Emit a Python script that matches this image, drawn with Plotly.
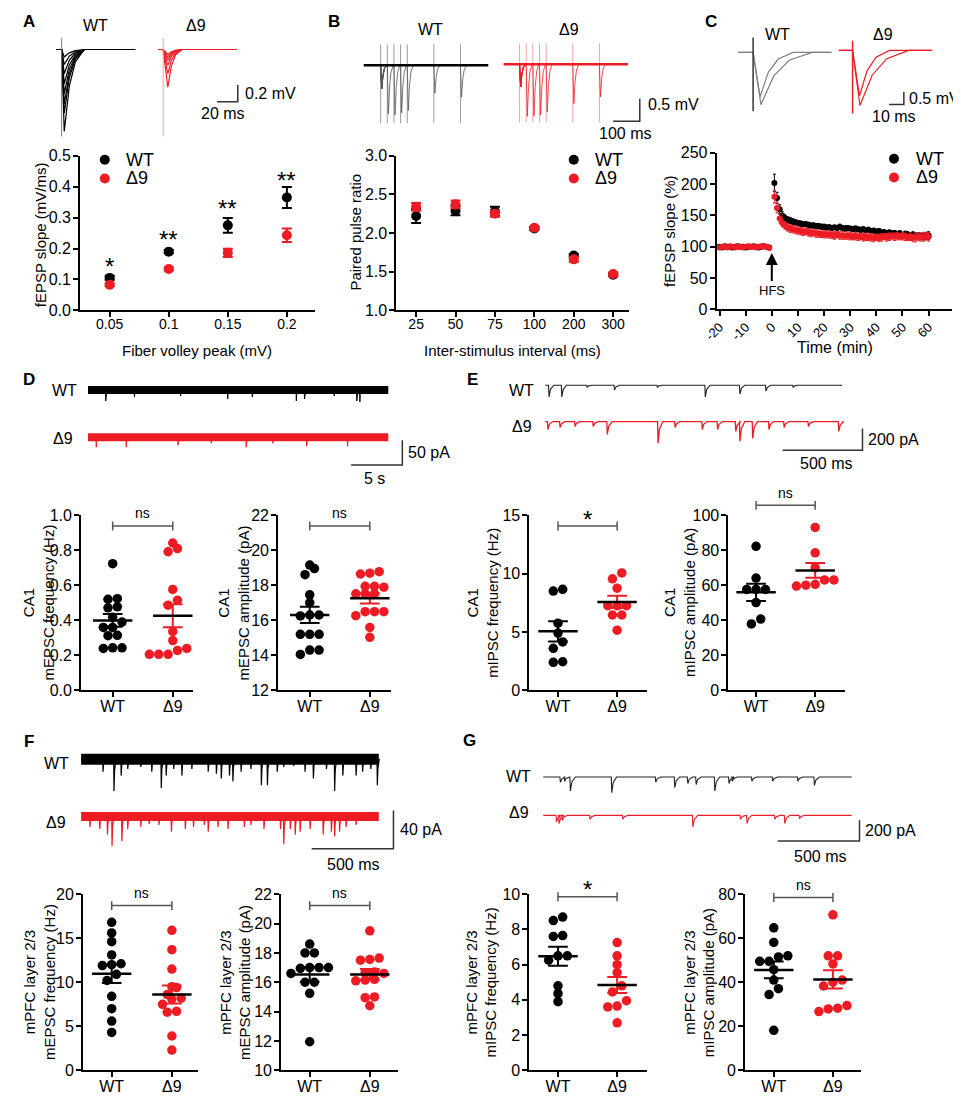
#!/usr/bin/env python3
# -*- coding: utf-8 -*-
import numpy as np
import plotly.graph_objects as go

W, H = 961, 1103        # reference pixel frame
OFF = 8                 # default margin of the html body around the plot div
FW, FH = W - OFF, H - OFF
FONT = 'Liberation Sans, Arial, Helvetica, sans-serif'
RED = '#ED1C24'
BAR = '#555555'

# %% Data ---------------------------------------------------------------
groups = ['WT', 'Δ9']

# A: input-output (fEPSP slope vs fiber volley)
fv_labels = ['0.05', '0.1', '0.15', '0.2']
io_wt = [0.105, 0.19, 0.275, 0.365]
io_wt_sem = [0.006, 0.005, 0.024, 0.034]
io_d9 = [0.083, 0.134, 0.186, 0.243]
io_d9_sem = [0.005, 0.005, 0.013, 0.022]
io_marks = ['*', '**', '**', '**']
io_mark_y = [0.159, 0.245, 0.347, 0.436]
a_yticks = [0.0, 0.1, 0.2, 0.3, 0.4, 0.5]
# A example sweeps (mV, ms)
a_wt_depth = [0.98, 0.76, 0.65, 0.53, 0.41, 0.29, 0.18, 0.09]
a_d9_depth = [0.45, 0.29, 0.19, 0.13, 0.09, 0.06]
a_stim, a_end = 5, 76
a_art = (0.14, -1.04)

# B: paired pulse ratio
isi_labels = ['25', '50', '75', '100', '200', '300']
isi_ms = [25, 50, 75, 100, 200, 300]
ppr_wt = [2.22, 2.29, 2.28, 2.06, 1.71, 1.46]
ppr_wt_sem = [0.09, 0.06, 0.06, 0.02, 0.02, 0.02]
ppr_d9 = [2.34, 2.37, 2.25, 2.07, 1.66, 1.47]
ppr_d9_sem = [0.05, 0.05, 0.04, 0.02, 0.03, 0.02]
b_yticks = [1.0, 1.5, 2.0, 2.5, 3.0]
b_wt_first, b_d9_first = 0.52, 0.50
b_wt_second = [1.07, 1.10, 1.05, 1.00, 0.62, 0.70]
b_d9_second = [1.15, 1.15, 1.12, 1.05, 0.87, 0.72]
b_art = (0.46, -1.28)

# C: LTP time course
ltp_base_t = list(range(-20, 0))
ltp_wt_base = [100, 99, 101, 100, 100, 99, 100, 101, 100, 100,
               99, 100, 100, 101, 100, 99, 100, 101, 100, 99]
ltp_wt_base_err = [2, 2, 1, 2, 2, 1, 2, 2, 1, 2, 2, 1, 2, 2, 1, 2, 2, 1, 2, 2]
ltp_d9_base = [99, 100, 100, 99, 101, 100, 99, 100, 100, 99,
               100, 101, 100, 100, 99, 100, 101, 101, 100, 98]
ltp_d9_base_err = [2, 1, 2, 2, 1, 2, 2, 1, 2, 2, 1, 2, 2, 1, 2, 2, 1, 2, 2, 2]
ltp_post_t = list(range(1, 61))
ltp_wt_post = [202, 178, 160, 150, 146, 143, 142, 140, 139, 138,
               137, 136, 136, 135, 134, 134, 133, 133, 132, 132,
               131, 131, 130, 131, 130, 132, 130, 129, 130, 129,
               128, 129, 128, 127, 128, 126, 127, 125, 126, 124,
               125, 123, 123, 122, 123, 121, 122, 120, 121, 119,
               120, 119, 118, 119, 117, 118, 117, 116, 117, 118]
ltp_wt_post_err = [14, 9, 7, 6, 5, 5, 5, 5, 4, 4,
                   4, 4, 4, 4, 4, 4, 4, 3, 4, 4,
                   3, 4, 4, 3, 4, 4, 3, 4, 4, 3,
                   4, 4, 3, 4, 4, 3, 4, 4, 3, 4,
                   4, 3, 4, 4, 3, 4, 4, 4, 5, 4,
                   5, 5, 4, 5, 5, 4, 5, 5, 6, 6]
ltp_d9_post = [180, 162, 145, 138, 134, 131, 129, 128, 127, 126,
               125, 124, 124, 123, 122, 122, 121, 121, 120, 120,
               120, 119, 119, 118, 119, 118, 118, 117, 118, 117,
               116, 117, 116, 116, 115, 116, 115, 115, 114, 115,
               114, 115, 116, 115, 116, 117, 116, 117, 116, 117,
               116, 115, 116, 114, 115, 116, 115, 116, 117, 116]
ltp_d9_post_err = [10, 8, 7, 6, 6, 6, 6, 6, 6, 6,
                   6, 6, 5, 6, 6, 5, 6, 6, 5, 6,
                   6, 5, 6, 6, 5, 6, 6, 5, 6, 6,
                   5, 6, 6, 5, 6, 6, 5, 6, 6, 5,
                   6, 6, 5, 6, 6, 5, 6, 6, 5, 6,
                   6, 5, 6, 6, 7, 6, 6, 7, 6, 7]
c_yticks = [0, 50, 100, 150, 200, 250]
c_xticks = [-20, -10, 0, 10, 20, 30, 40, 50, 60]
# C example sweeps: pre / post HFS
c_wt_depth, c_wt_peak, c_wt_back = [1.73, 2.04], [4.7, 5.3], [27, 40]
c_d9_depth, c_d9_peak, c_d9_back = [1.77, 2.15], [4.7, 5.0], [25, 38]
c_wt_stim, c_d9_stim, c_end = 10, 9.3, 63
c_wt_art, c_d9_art = (0.58, -2.3), (0.38, -2.46)

# D: CA1 mEPSC
d_freq_wt = [0.723, 0.471, 0.52, 0.523, 0.477, 0.417, 0.359, 0.359, 0.312,
             0.314, 0.243, 0.239, 0.243, 0.39]
d_freq_d9 = [0.809, 0.791, 0.841, 0.576, 0.514, 0.486, 0.336, 0.284, 0.239,
             0.239, 0.228, 0.206, 0.206, 0.206]
d_amp_wt = [19.15, 18.95, 18.6, 17.45, 17.0, 16.3, 16.25, 16.3, 15.2, 15.2,
            15.2, 14.3, 14.3, 14.05]
d_amp_d9 = [18.77, 18.69, 18.64, 17.94, 17.89, 17.94, 17.51, 17.51, 17.51,
            16.49, 16.49, 16.49, 16.26, 15.59, 15.03]
d_wt_t = [1.7, 4.5, 9.0, 13.6, 16.0, 20.3, 21.1, 24.0, 26.2, 26.5]
d_wt_a = [22, 14, 12, 18, 14, 22, 18, 12, 22, 24]
d_d9_t = [0.77, 3.7, 8.75, 12.0, 15.4, 18.0, 21.3, 25.3]
d_d9_a = [20, 20, 16, 12, 20, 12, 18, 18]
d_end = 29.3

# E: CA1 mIPSC
e_freq_wt = [8.5, 8.65, 5.75, 4.9, 4.15, 3.6, 2.4, 2.45]
e_freq_d9 = [9.55, 10.05, 8.75, 7.25, 7.25, 7.25, 6.45, 6.45, 5.15]
e_amp_wt = [82.2, 64.1, 57.6, 57.6, 57.6, 50.1, 37.9, 40.7]
e_amp_d9 = [93.0, 78.5, 70.0, 63.0, 63.0, 60.5, 60.0, 59.5]
e_wt_t = [21, 101, 260, 431, 700, 1000, 1217, 1380, 1550]
e_wt_a = [109, 109, 18, 45, 18, 109, 82, 55, 18]
e_d9_t = [14, 90, 184, 298, 386, 704, 811, 981, 1077, 1191, 1217, 1297,
          1399, 1494, 1646, 1836]
e_d9_a = [73, 55, 45, 45, 118, 200, 55, 73, 73, 91, 182, 155, 73, 55, 45, 91]
e_end = 1860

# F: mPFC mEPSC
f_freq_wt = [16.8, 15.6, 14.6, 13.1, 12.1, 11.9, 12.0, 10.9, 10.2, 8.4, 7.0,
             5.6, 4.3]
f_freq_d9 = [15.9, 13.7, 11.5, 9.5, 9.4, 8.6, 8.1, 8.2, 7.5, 6.7, 6.6, 3.9,
             2.3]
f_amp_wt = [18.6, 18.0, 18.0, 17.0, 17.0, 17.0, 16.95, 16.6, 16.0, 16.0,
            15.25, 11.95]
f_amp_d9 = [19.5, 17.5, 17.65, 17.55, 16.65, 16.6, 16.7, 16.15, 16.1, 16.2,
            15.0, 14.95, 14.4]
f_wt_t = [132, 199, 243, 283, 363, 430, 488, 518, 564, 614, 675, 775, 825,
          855, 905, 926, 976, 1036, 1100, 1137, 1197, 1237, 1297, 1367, 1418,
          1498, 1548, 1598, 1679, 1719, 1769, 1809]
f_wt_a = [13, 33, 17, 10, 8, 13, 30, 17, 10, 17, 10, 13, 15, 20, 17, 23, 13,
          10, 27, 27, 13, 8, 7, 13, 20, 10, 33, 17, 17, 13, 10, 27]
f_d9_t = [52, 112, 159, 187, 247, 283, 363, 414, 474, 550, 635, 685, 751,
          775, 835, 896, 996, 1036, 1116, 1217, 1237, 1277, 1307, 1337, 1398,
          1478, 1528, 1548, 1578, 1618, 1679]
f_d9_a = [11, 13, 19, 31, 26, 13, 11, 8, 9, 16, 13, 11, 9, 16, 11, 13, 11, 9,
          13, 13, 29, 13, 19, 16, 13, 19, 16, 21, 16, 11, 9]
f_end = 1820

# G: mPFC mIPSC
g_freq_wt = [8.5, 8.7, 7.65, 7.6, 6.5, 6.5, 6.25, 4.8, 4.35, 3.9]
g_freq_d9 = [7.25, 6.5, 6.0, 5.55, 4.8, 4.45, 3.95, 3.65, 3.6, 2.7]
g_amp_wt = [64.7, 58.1, 52.0, 51.5, 49.5, 49.5, 45.7, 41.0, 37.1, 34.4, 18.2]
g_amp_d9 = [70.6, 52.0, 52.0, 48.3, 41.0, 40.0, 38.3, 29.4, 28.2, 27.9, 26.7]
g_wt_t = [102, 128, 163, 416, 685, 801, 881, 932, 1046, 1133, 1153, 1273,
          1400, 1554, 1655]
g_wt_a = [51, 41, 136, 152, 51, 104, 63, 73, 136, 63, 41, 41, 41, 41, 82]
g_d9_t = [78, 94, 114, 283, 484, 912, 1203, 1243, 1414, 1474, 1564]
g_d9_a = [63, 79, 48, 38, 38, 111, 38, 79, 38, 79, 32]
g_end = 1886

# %% Helpers -------------------------------------------------------------
layout = dict(width=FW, height=FH, margin=dict(l=0, r=0, t=0, b=0),
              paper_bgcolor='white', plot_bgcolor='rgba(0,0,0,0)',
              showlegend=False, font=dict(family=FONT, color='black'))
data = []
boxes = []
annotations = []


def px_x(x):
    return (x - OFF) / FW


def px_y(y):
    return 1 - (y - OFF) / FH


def sfx(n):
    return '' if n == 1 else str(n)


def refs(n):
    return 'x' + sfx(n), 'y' + sfx(n)


def new_axes(box, xr, yr):
    n = len(boxes) + 1
    boxes.append((box, xr, yr))
    x0, y0, x1, y1 = box
    layout['xaxis' + sfx(n)] = dict(domain=[px_x(x0), px_x(x1)], range=xr,
                                    anchor='y' + sfx(n), visible=False,
                                    fixedrange=True)
    layout['yaxis' + sfx(n)] = dict(domain=[px_y(y1), px_y(y0)], range=yr,
                                    anchor='x' + sfx(n), visible=False,
                                    fixedrange=True)
    return n


def trace_axes(ox, oy, sx, sy, box):
    # (ox, oy): pixel of t=0 / v=0, sx, sy: pixels per unit
    x0, y0, x1, y1 = box
    return new_axes(box, [(x0 - ox) / sx, (x1 - ox) / sx],
                    [(oy - y1) / sy, (oy - y0) / sy])


def to_px(n, xv, yv):
    (x0, y0, x1, y1), xr, yr = boxes[n - 1]
    return (x0 + (xv - xr[0]) / (xr[1] - xr[0]) * (x1 - x0),
            y1 - (yv - yr[0]) / (yr[1] - yr[0]) * (y1 - y0))


def from_px(n, px, py):
    (x0, y0, x1, y1), xr, yr = boxes[n - 1]
    return (xr[0] + (px - x0) / (x1 - x0) * (xr[1] - xr[0]),
            yr[0] + (y1 - py) / (y1 - y0) * (yr[1] - yr[0]))


def prism(n, xticks, xtext, yticks, ytext, xsize=16, ysize=16, xangle=0,
          xstand=-5):
    common = dict(visible=True, showline=True, linecolor='black', linewidth=2,
                  ticks='outside', ticklen=5, tickwidth=2, tickcolor='black',
                  showgrid=False, zeroline=False, tickmode='array')
    layout['xaxis' + sfx(n)].update(common, tickvals=xticks, ticktext=xtext,
                                    tickangle=xangle, ticklabelstandoff=xstand,
                                    tickfont=dict(size=xsize, family=FONT))
    layout['yaxis' + sfx(n)].update(common, tickvals=yticks, ticktext=ytext,
                                    ticklabelstandoff=-1,
                                    tickfont=dict(size=ysize, family=FONT))


def text(x, y, s, size=16, anchor='center', angle=0, color='black', yshift=0):
    annotations.append(dict(x=px_x(x), y=px_y(y), xref='paper', yref='paper',
                            text=s, showarrow=False, xanchor=anchor,
                            yanchor='middle', textangle=angle, yshift=yshift,
                            font=dict(size=size, color=color, family=FONT)))


def line(n, x, y, color, width):
    xa, ya = refs(n)
    data.append(go.Scatter(x=x, y=y, mode='lines',
                           line=dict(color=color, width=width),
                           xaxis=xa, yaxis=ya, hoverinfo='skip'))


def sweep(t0, t1, stims, depths, tp, tb):
    x, y = [t0], [0]
    for s, d in zip(stims, depths):
        x += [s, s + tp, s + tp + 0.25 * (tb - tp), s + tp + 0.55 * (tb - tp),
              s + tb]
        y += [0, -d, -0.45 * d, -0.15 * d, 0]
    x.append(t1)
    y.append(0)
    return x, y


def artifacts(stims, top, bottom):
    x, y = [], []
    for s in stims:
        x += [s, s, None]
        y += [top, bottom, None]
    return x, y


def minis(t_end, times, amps, rise, decay):
    x, y = [0.0], [0.0]
    for i in np.argsort(times):
        t, a = times[i], amps[i]
        x += [t, t + rise, t + rise + 0.3 * decay, t + rise + decay]
        y += [0, -a, -0.35 * a, 0]
    x.append(t_end)
    y.append(0)
    return x, y


def scalebar(n, corner, len_t, len_v, lab_v, lab_t, t_dx=0, t_dy=13,
             v_dx=5, v_dy=0, size=16):
    ct, cv = from_px(n, *corner)
    line(n, [ct - len_t, ct, ct], [cv, cv, cv + len_v], '#333333', 1.5)
    _, pvy = to_px(n, ct, cv + len_v / 2)
    ptx, _ = to_px(n, ct - len_t / 2, cv)
    text(corner[0] + v_dx, pvy + v_dy, lab_v, anchor='left', size=size)
    text(ptx + t_dx, corner[1] + t_dy, lab_t, size=size)


def row_offsets(vals, ppv, d=9.5):
    # spread dots that share a row (scatter dot plot)
    offs = np.zeros(len(vals))
    group, start = [], None

    def flush(g):
        for i, idx in enumerate(g):
            offs[idx] = (i - (len(g) - 1) / 2) * d

    for idx in np.argsort(vals):
        y = vals[idx] * ppv
        if group and y - start > d * 0.8:
            flush(group)
            group = []
        if not group:
            start = y
        group.append(idx)
    flush(group)
    return offs


canvas = new_axes((OFF, OFF, W, H), [OFF, W], [H, OFF])


def canvas_line(x, y, color=BAR, width=1.5):
    line(canvas, x, y, color, width)


def bracket(n, yv, label):
    xl, yb = to_px(n, 0, yv)
    xr_, _ = to_px(n, 1, yv)
    canvas_line([xl, xr_, None, xl, xl, None, xr_, xr_],
                [yb, yb, None, yb - 4.5, yb + 4.5, None, yb - 4.5, yb + 4.5])
    star = label.startswith('*')
    text((xl + xr_) / 2, yb - 13, label, size=24 if star else 14,
         yshift=-6 if star else 0)


def legend(x, y):
    for dy, col, lab in ((0, 'black', groups[0]), (19, RED, groups[1])):
        data.append(go.Scatter(x=[x], y=[y + dy], mode='markers',
                               marker=dict(size=10, color=col),
                               xaxis='x', yaxis='y', hoverinfo='skip'))
        text(x + 20, y + dy, lab, size=18, anchor='left')


def dot_panel(box, xr, yr, yticks, ytext, wt, d9, br_y, br_text, title,
              title_x):
    n = new_axes(box, xr, yr)
    prism(n, [0, 1], groups, yticks, ytext)
    xa, ya = refs(n)
    x0, y0, x1, y1 = box
    ppv = (y1 - y0) / (yr[1] - yr[0])
    ppc = (x1 - x0) / (xr[1] - xr[0])
    sets = ((0, np.asarray(wt, float), 'black'),
            (1, np.asarray(d9, float), RED))
    for c, v, col in sets:
        off = row_offsets(v, ppv) / ppc
        data.append(go.Scatter(x=c + off, y=v, mode='markers',
                               marker=dict(size=9.5, color=col),
                               xaxis=xa, yaxis=ya, cliponaxis=False,
                               hoverinfo='skip'))
    cap, half = 10 / ppc, 20 / ppc
    for c, v, col in sets:
        m = v.mean()
        s = v.std(ddof=1) / np.sqrt(len(v))
        line(n, [c - cap, c + cap, None, c, c, None, c - cap, c + cap],
             [m + s, m + s, None, m + s, m - s, None, m - s, m - s], col, 2)
        line(n, [c - half, c + half], [m, m], 'black', 2.5)
    bracket(n, br_y, br_text)
    text(title_x, (y0 + y1) / 2, title, size=15, angle=-90)
    return n


# %% Panel A ---------------------------------------------------------------
text(15, 14, '<b>A</b>', size=17)
text(83, 18, groups[0])
text(185, 18, groups[1])
nAw = trace_axes(43, 42, 1.05, 85, (38, 25, 135, 135))
for d in a_wt_depth:
    x, y = sweep(0, a_end, [a_stim], [d], 2.5, 22)
    line(nAw, x, y, 'black', 1.2)
line(nAw, *artifacts([a_stim], *a_art), '#777777', 1)
nAd = trace_axes(146, 42, 1.05, 85, (140, 25, 300, 135))
for d in a_d9_depth:
    x, y = sweep(0, a_end, [a_stim], [d], 4.5, 18)
    line(nAd, x, y, RED, 1.2)
line(nAd, *artifacts([a_stim], *a_art), '#F4A0A0', 1)
scalebar(nAd, (227, 95), 20, 0.2, '0.2 mV', '20 ms', t_dx=-4, t_dy=12)

nA = new_axes((67, 150, 305, 307), [-0.5, 3.47], [0, 0.5])
cat = list(range(len(fv_labels)))
prism(nA, cat, fv_labels, a_yticks, [f'{v:.1f}' for v in a_yticks], xsize=14)
for vals, sem, col in ((io_wt, io_wt_sem, 'black'), (io_d9, io_d9_sem, RED)):
    data.append(go.Scatter(x=cat, y=vals, mode='markers',
                           marker=dict(size=10, color=col),
                           error_y=dict(type='data', array=sem, width=5,
                                        thickness=2, color=col),
                           xaxis=refs(nA)[0], yaxis=refs(nA)[1],
                           cliponaxis=False, hoverinfo='skip'))
for c, s, yv in zip(cat, io_marks, io_mark_y):
    annotations.append(dict(x=c, y=yv, xref=refs(nA)[0], yref=refs(nA)[1],
                            text=s, showarrow=False, yshift=-5,
                            font=dict(size=24, family=FONT, color='black')))
legend(92, 154)
text(27, 230, 'fEPSP slope (mV/ms)', size=15, angle=-90)
text(186, 348, 'Fiber volley peak (mV)', size=15)

# %% Panel B ---------------------------------------------------------------
text(325, 14, '<b>B</b>', size=17)
text(423, 22, groups[0])
text(563, 22, groups[1])
nBw = trace_axes(372, 58, 0.27, 46, (345, 30, 490, 125))
nBd = trace_axes(513, 57, 0.27, 46, (490, 30, 642, 135))
for n, first, second, col, acol, t0, t1 in (
        (nBw, b_wt_first, b_wt_second, '#555555', '#999999', -63, 404),
        (nBd, b_d9_first, b_d9_second, RED, '#F4A0A0', -59, 407)):
    line(n, *artifacts([0] + isi_ms, *b_art), acol, 1)
    for isi, d2 in zip(isi_ms, second):
        x, y = sweep(t0, t1, [0, isi], [first, d2], 4, 22)
        line(n, x, y, col, 0.8)
    line(n, [t0, t1], [0, 0], 'black' if n == nBw else RED, 2.5)
scalebar(nBd, (635, 115), 100, 0.5, '0.5 mV', '100 ms', v_dx=6, v_dy=-6,
         t_dx=-2, t_dy=12)

nB = new_axes((388, 150, 624, 307), [-0.5, 5.4], [1, 3])
cat = list(range(len(isi_labels)))
prism(nB, cat, isi_labels, b_yticks, [f'{v:.1f}' for v in b_yticks], xsize=14)
for vals, sem, col in ((ppr_wt, ppr_wt_sem, 'black'),
                       (ppr_d9, ppr_d9_sem, RED)):
    data.append(go.Scatter(x=cat, y=vals, mode='markers',
                           marker=dict(size=10, color=col),
                           error_y=dict(type='data', array=sem, width=5,
                                        thickness=2, color=col),
                           xaxis=refs(nB)[0], yaxis=refs(nB)[1],
                           cliponaxis=False, hoverinfo='skip'))
legend(568, 154)
text(347, 228, 'Paired pulse ratio', size=15, angle=-90)
text(506, 348, 'Inter-stimulus interval (ms)', size=15)

# %% Panel C ---------------------------------------------------------------
text(707, 14, '<b>C</b>', size=17)
text(775, 27, groups[0])
text(882, 27, groups[1])
nCw = trace_axes(735, 45, 1.5, 26, (728, 25, 833, 115))
nCd = trace_axes(837, 43, 1.5, 26, (830, 25, 936, 115))
for n, stim, dep, pk, bk, art, col, acol in (
        (nCw, c_wt_stim, c_wt_depth, c_wt_peak, c_wt_back, c_wt_art,
         '#808080', '#333333'),
        (nCd, c_d9_stim, c_d9_depth, c_d9_peak, c_d9_back, c_d9_art,
         RED, RED)):
    for d, p, b in zip(dep, pk, bk):
        x, y = sweep(0, c_end, [stim], [d], p, b)
        line(n, x, y, col, 1.2)
    line(n, *artifacts([stim], *art), acol, 1.5)
scalebar(nCd, (903, 98), 10, 0.5, '0.5 mV', '10 ms', v_dx=3, t_dx=-2,
         t_dy=12)

nC = new_axes((713, 147, 952, 306), [-21.1, 69], [0, 250])
prism(nC, c_xticks, [str(v) for v in c_xticks], c_yticks,
      [str(v) for v in c_yticks], xsize=13, xangle=-45, xstand=-2)
for base, berr, post, perr, col in (
        (ltp_wt_base, ltp_wt_base_err, ltp_wt_post, ltp_wt_post_err, 'black'),
        (ltp_d9_base, ltp_d9_base_err, ltp_d9_post, ltp_d9_post_err, RED)):
    data.append(go.Scatter(x=ltp_base_t + ltp_post_t, y=base + post,
                           mode='markers', marker=dict(size=6, color=col),
                           error_y=dict(type='data', array=berr + perr,
                                        width=1.5, thickness=1, color=col),
                           xaxis=refs(nC)[0], yaxis=refs(nC)[1],
                           cliponaxis=False, hoverinfo='skip'))
annotations.append(dict(x=0, y=90, xref=refs(nC)[0], yref=refs(nC)[1],
                        text='HFS', showarrow=True, ax=0, ay=37,
                        arrowhead=2, arrowsize=1.2, arrowwidth=2,
                        arrowcolor='black',
                        font=dict(size=13, family=FONT, color='black')))
legend(893, 153)
text(665, 227, 'fEPSP slope (%)', size=15, angle=-90)
text(833, 345, 'Time (min)', size=16)

# %% Panel D ---------------------------------------------------------------
text(15, 377, '<b>D</b>', size=17)
text(51, 388, groups[0])
text(50, 437, groups[1])
nDw = trace_axes(75, 388, 10.4, 0.5, (70, 372, 385, 405))
nDd = trace_axes(75, 436, 10.4, 0.5, (70, 420, 398, 468))
for n, tt, aa, col in ((nDw, d_wt_t, d_wt_a, 'black'),
                       (nDd, d_d9_t, d_d9_a, RED)):
    line(n, [0, d_end], [0, 0], col, 8)
    line(n, *minis(d_end, tt, aa, 0.03, 0.12), col, 1)
scalebar(nDd, (394, 464), 5, 50, '50 pA', '5 s', v_dx=4, t_dx=-2, t_dy=14)

dot_panel((68, 515, 182, 693), [-0.525, 1.344], [0, 1],
          [0.0, 0.2, 0.4, 0.6, 0.8, 1.0],
          ['0.0', '0.2', '0.4', '0.6', '0.8', '1.0'],
          d_freq_wt, d_freq_d9, 0.938, 'ns',
          'CA1<br>mEPSC frequency (Hz)', 25)
dot_panel((268, 515, 382, 693), [-0.525, 1.344], [12, 22],
          [12, 14, 16, 18, 20, 22], ['12', '14', '16', '18', '20', '22'],
          d_amp_wt, d_amp_d9, 21.38, 'ns',
          'CA1<br>mEPSC amplitude (pA)', 223)

# %% Panel E ---------------------------------------------------------------
text(465, 377, '<b>E</b>', size=17)
text(515, 388, groups[0])
text(515, 425, groups[1])
nEw = trace_axes(539, 383, 0.162, 0.11, (534, 365, 848, 400))
nEd = trace_axes(539, 420, 0.162, 0.11, (534, 405, 866, 455))
line(nEw, *minis(e_end, e_wt_t, e_wt_a, 3, 30), '#222222', 1.1)
line(nEd, *minis(e_end, e_d9_t, e_d9_a, 3, 30), RED, 1.3)
scalebar(nEd, (861, 449), 500, 200, '200 pA', '500 ms', v_dx=4, t_dx=3,
         t_dy=14)

dot_panel((523, 515, 642, 693), [-0.483, 1.5], [0, 15], [0, 5, 10, 15],
          ['0', '5', '10', '15'], e_freq_wt, e_freq_d9, 14.07, '*',
          'CA1<br>mIPSC frequency (Hz)', 476)
dot_panel((725, 515, 843, 693), [-0.467, 1.5], [0, 100],
          [0, 20, 40, 60, 80, 100], ['0', '20', '40', '60', '80', '100'],
          e_amp_wt, e_amp_d9, 105.6, 'ns',
          'CA1<br>mIPSC amplitude (pA)', 676)

# %% Panel F ---------------------------------------------------------------
text(15, 745, '<b>F</b>', size=17)
text(43, 767, groups[0])
text(43, 827, groups[1])
nFw = trace_axes(68, 763, 0.166, 0.975, (62, 742, 376, 802))
nFd = trace_axes(68, 821, 0.166, 0.975, (62, 806, 390, 858))
for n, tt, aa, col, bw in ((nFw, f_wt_t, f_wt_a, 'black', 11),
                           (nFd, f_d9_t, f_d9_a, RED, 9)):
    line(n, [0, f_end], [0, 0], col, bw)
    line(n, *minis(f_end, tt, aa, 2, 12), col, 1.2)
scalebar(nFd, (385, 854), 500, 40, '40 pA', '500 ms', v_dx=5, t_dx=0,
         t_dy=16)

dot_panel((70, 900, 187, 1079), [-0.475, 1.44], [0, 20], [0, 5, 10, 15, 20],
          ['0', '5', '10', '15', '20'], f_freq_wt, f_freq_d9, 18.7, 'ns',
          'mPFC layer 2/3<br>mEPSC frequency (Hz)', 26)
dot_panel((271, 900, 390, 1079), [-0.475, 1.475], [10, 22],
          [10, 12, 14, 16, 18, 20, 22],
          ['10', '12', '14', '16', '18', '20', '22'],
          f_amp_wt, f_amp_d9, 21.22, 'ns',
          'mPFC layer 2/3<br>mEPSC amplitude (pA)', 224)

# %% Panel G ---------------------------------------------------------------
text(462, 744, '<b>G</b>', size=17)
text(512, 781, groups[0])
text(512, 817, groups[1])
nGw = trace_axes(537, 781, 0.166, 0.105, (530, 768, 856, 800))
nGd = trace_axes(537, 820, 0.166, 0.105, (530, 808, 862, 852))
line(nGw, *minis(g_end, g_wt_t, g_wt_a, 3, 30), '#222222', 1.1)
line(nGd, *minis(g_end, g_d9_t, g_d9_a, 3, 30), RED, 1.1)
scalebar(nGd, (858, 846), 500, 200, '200 pA', '500 ms', v_dx=4, t_dx=1,
         t_dy=16)

dot_panel((523, 900, 642, 1079), [-0.483, 1.5], [0, 10], [0, 2, 4, 6, 8, 10],
          ['0', '2', '4', '6', '8', '10'], g_freq_wt, g_freq_d9, 9.85, '*',
          'mPFC layer 2/3<br>mIPSC frequency (Hz)', 474)
dot_panel((742, 900, 860, 1079), [-0.483, 1.483], [0, 80], [0, 20, 40, 60, 80],
          ['0', '20', '40', '60', '80'], g_amp_wt, g_amp_d9, 78.5, 'ns',
          'mPFC layer 2/3<br>mIPSC amplitude (pA)', 695)

# %% Output ----------------------------------------------------------------
layout['annotations'] = annotations
fig = go.Figure(data=data, layout=layout)
fig.write_html('out.html')
